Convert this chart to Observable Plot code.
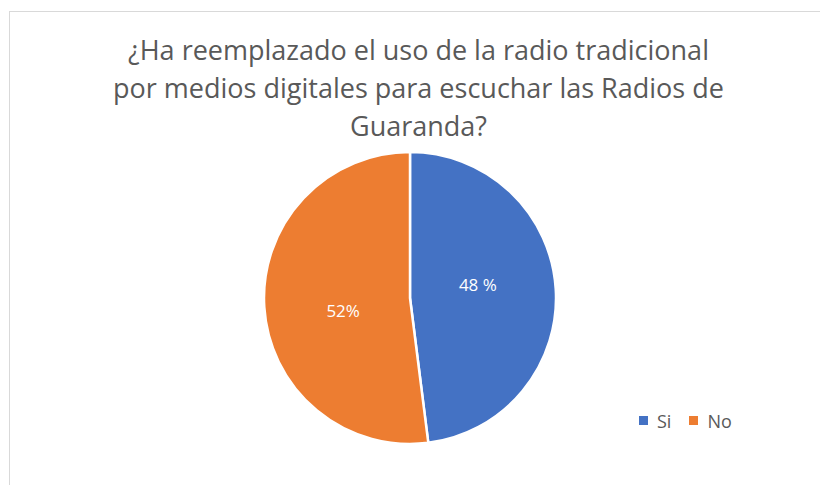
<!DOCTYPE html>
<html><head><meta charset="utf-8">
<script src="https://cdn.jsdelivr.net/npm/d3@7"></script>
<script src="https://cdn.jsdelivr.net/npm/@observablehq/plot@0.6"></script>
<style>
body{margin:0;background:#fff;font-family:"Open Sans",sans-serif;}
#frame{position:absolute;left:9px;top:11px;width:830px;height:500px;border:1px solid #d9d9d9;box-sizing:border-box;}
#title{position:absolute;left:9px;top:31px;width:819px;text-align:center;font-size:27px;line-height:38px;color:#595959;}
#chart{position:absolute;left:0;top:145px;}
#legend{position:absolute;left:639px;top:404px;}
</style></head><body>
<div id="frame"></div>
<div id="title">¿Ha reemplazado el uso de la radio tradicional<br>por medios digitales para escuchar las Radios de<br>Guaranda?</div>
<div id="chart"></div>
<div id="legend"></div>
<script>
const categories = ["Si", "No"];
const values = [48, 52];
const labels = ["48 %", "52%"];
const colors = ["#4472C4", "#ED7D31"];

const data = categories.map((c, i) => ({category: c, value: values[i], label: labels[i]}));
const arcs = d3.pie().sort(null).value(d => d.value)(data)
  .map(a => ({category: a.data.category, label: a.data.label, startAngle: a.startAngle, endAngle: a.endAngle}));
const labelAngle = d => (d.startAngle + d.endAngle) / 2 - 0.13;
const colorOpts = {domain: categories, range: colors};

const wedges = Plot.dot(arcs, {
  x: () => 0, y: () => 0, fill: "category",
  render(index, scales, channels, dims, context) {
    const cx = scales.x(0), cy = scales.y(0), r = scales.x(1) - scales.x(0);
    const arc = d3.arc().innerRadius(0).outerRadius(r);
    const g = d3.create("svg:g").attr("transform", `translate(${cx},${cy})`);
    g.selectAll("path").data(Array.from(index, i => arcs[i])).join("path")
      .attr("d", arc)
      .attr("fill", d => scales.color(d.category))
      .attr("stroke", "white").attr("stroke-width", 2.5).attr("stroke-linejoin", "round");
    return g.node();
  }
});

const chart = Plot.plot({
  width: 820, height: 340,
  margin: 0,
  x: {domain: [-1, 1], range: [264, 556], axis: null},
  y: {domain: [-1, 1], range: [299, 7], axis: null},
  color: colorOpts,
  style: {fontFamily: "'Open Sans', sans-serif", background: "transparent"},
  marks: [
    wedges,
    Plot.text(arcs, {
      x: d => 0.47 * Math.sin(labelAngle(d)),
      y: d => 0.47 * Math.cos(labelAngle(d)),
      text: "label",
      fill: "white", fontSize: 17
    })
  ]
});
document.getElementById("chart").append(chart);

const legend = Plot.legend({
  color: colorOpts,
  swatchSize: 9,
  style: {fontSize: "18px", color: "#595959", fontFamily: "'Open Sans', sans-serif", background: "transparent"}
});
document.getElementById("legend").append(legend);
</script>
</body></html>
